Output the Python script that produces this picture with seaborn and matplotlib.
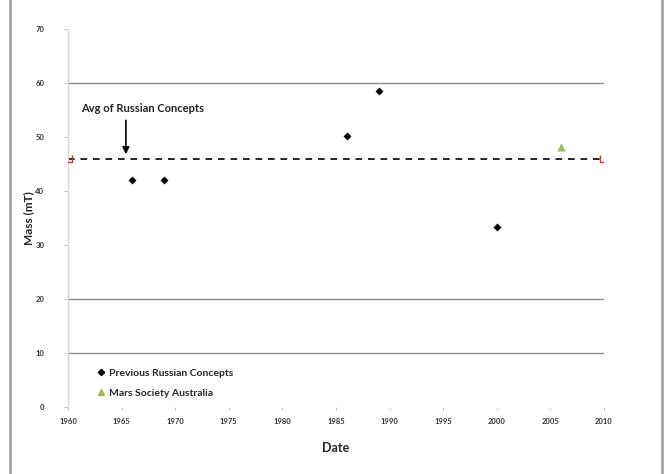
import matplotlib
matplotlib.use("Agg")
import matplotlib.pyplot as plt
import seaborn as sns
import pandas as pd
from matplotlib.path import Path
from matplotlib.lines import Line2D

# ---- data ----
russian_years = [1966, 1969, 1986, 1989, 2000]
russian_mass = [42.0, 42.0, 50.2, 58.6, 33.3]
msa_years = [2006]
msa_mass = [48.1]
avg_years = [1960, 2010]
avg_mass = [46.0, 46.0]
x_ticks = [1960, 1965, 1970, 1975, 1980, 1985, 1990, 1995, 2000, 2005, 2010]
y_ticks = [0, 10, 20, 30, 40, 50, 60, 70]
grid_levels = [10, 20, 60]
series_names = ["Previous Russian Concepts", "Mars Society Australia"]

sns.set_theme(style="white")
plt.rcParams['font.family'] = ['Lato', 'DejaVu Sans']

fig = plt.figure(figsize=(6.69, 4.74), dpi=100)
ax = fig.add_axes([68/669, 1-407/474, (604-68)/669, (407-29)/474])

# gridlines
for g in grid_levels:
    ax.axhline(g, color="#8c8c8c", lw=1.0, zorder=0)

df_r = pd.DataFrame({"Date": russian_years, "Mass": russian_mass})
df_m = pd.DataFrame({"Date": msa_years, "Mass": msa_mass})
df_a = pd.DataFrame({"Date": avg_years, "Mass": avg_mass})

ubracket = Path([(-1, 1), (-1, -1), (1, -1), (1, 1)],
                [Path.MOVETO, Path.LINETO, Path.LINETO, Path.LINETO])

sns.lineplot(data=df_a, x="Date", y="Mass", ax=ax, color="black", lw=1.2,
             linestyle=(0, (4, 3.5)), legend=False, zorder=2)
sns.scatterplot(data=df_a, x="Date", y="Mass", ax=ax, marker=ubracket, s=30,
                facecolor="none", edgecolor="#e03030", linewidth=1.0,
                legend=False, zorder=3)
sns.scatterplot(data=df_r, x="Date", y="Mass", ax=ax, marker="D", s=14,
                color="black", edgecolor="black", linewidth=0.3, zorder=4)
sns.scatterplot(data=df_m, x="Date", y="Mass", ax=ax, marker="^", s=30,
                color="#9bbb59", edgecolor="#9bbb59", linewidth=0.3, zorder=4)

ax.set_xlim(1960, 2010)
ax.set_ylim(0, 70)
ax.set_xticks(x_ticks)
ax.set_yticks(y_ticks)
ax.set_xticklabels([str(t) for t in x_ticks], fontsize=5.5, color="#333333", fontweight="bold")
ax.set_yticklabels([str(t) for t in y_ticks], fontsize=5.5, color="#333333", fontweight="bold")
ax.tick_params(axis="x", length=2, width=0.6, color="#bbbbbb", pad=6, direction="out", bottom=True)
ax.tick_params(axis="y", length=3, width=0.6, color="#bbbbbb", pad=14, direction="out", left=True)

for s in ["top", "right", "bottom"]:
    ax.spines[s].set_visible(False)
ax.spines["left"].set_color("#d9d9d9")
ax.spines["left"].set_linewidth(1.0)

ax.set_xlabel("Date", fontsize=9, fontweight="bold", labelpad=12)
ax.set_ylabel("Mass (mT)", fontsize=8.5, fontweight="bold", labelpad=1)

# annotation
ax.annotate("Avg of Russian Concepts", xy=(1965.4, 46.4), xytext=(1961.2, 55.3),
            fontsize=8, fontweight="bold", color="#222222", va="center", ha="left")
ax.annotate("", xy=(1965.4, 46.3), xytext=(1965.4, 53.6),
            arrowprops=dict(arrowstyle="-|>", color="black", lw=1.2, mutation_scale=10))

handles = [
    Line2D([], [], marker="D", linestyle="none", color="black", markersize=3.2),
    Line2D([], [], marker="^", linestyle="none", color="#9bbb59", markersize=5),
]
ax.legend(handles, series_names, loc="lower left", bbox_to_anchor=(0.035, 0.0),
          frameon=False, fontsize=7.5, handletextpad=0.2, labelspacing=1.0,
          handlelength=1.0, prop={"weight": "bold", "size": 7.5})

# outer frame lines
fig.add_artist(Line2D([10/669, 10/669], [0, 1], transform=fig.transFigure, color="#999999", lw=1.8))
fig.add_artist(Line2D([662/669, 662/669], [0, 1], transform=fig.transFigure, color="#999999", lw=1.8))

fig.savefig("out.png", dpi=100)
